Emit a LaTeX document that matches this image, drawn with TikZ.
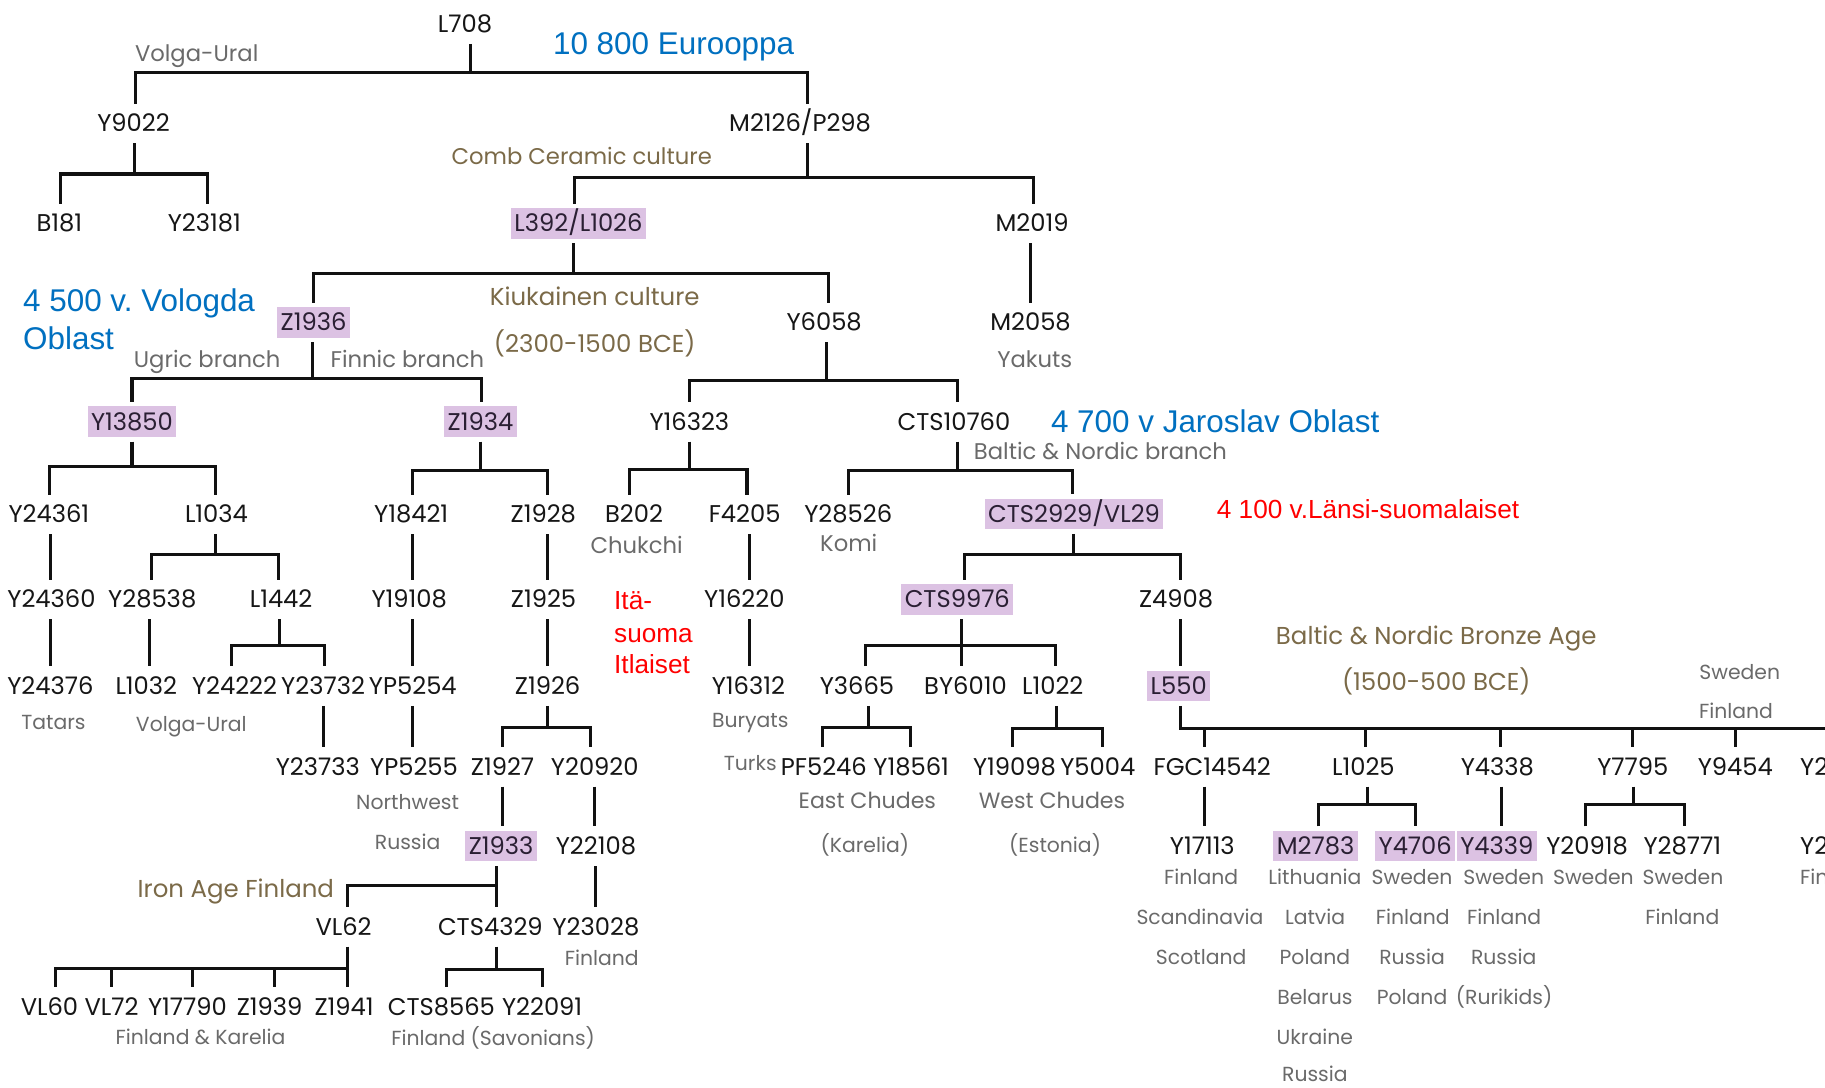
\documentclass[tikz,border=0pt]{standalone}
\usepackage{fontspec}
\newfontfamily\arialf{Liberation Sans}
\newfontfamily\advf{Poppins}
\frenchspacing
\definecolor{hapblack}{HTML}{161616}
\definecolor{lilac}{HTML}{DCC2E3}
\definecolor{hltext}{HTML}{2A1F33}
\definecolor{lblgray}{HTML}{6A6A6A}
\definecolor{tanc}{HTML}{7B6A48}
\definecolor{noteblue}{HTML}{0070C0}
\definecolor{alertred}{HTML}{FF0000}
\definecolor{linecol}{HTML}{111111}
\tikzset{
  hap/.style={font=\advf\fontsize{20.8}{22}\selectfont, text=hapblack, text height=14.5pt, text depth=0pt, inner xsep=3pt, inner ysep=5.8pt, outer ysep=4pt},
  hl/.style={hap, fill=lilac, text=hltext},
  lbl/.style={font=\advf\fontsize{17.5}{20}\selectfont, text=lblgray, anchor=base, inner sep=0pt},
  lblL/.style={lbl, font=\advf\fontsize{19.5}{22}\selectfont},
  lblM/.style={lbl, font=\advf\fontsize{19}{22}\selectfont},
  era/.style={font=\advf\fontsize{21}{24}\selectfont, text=tanc, anchor=base, inner sep=0pt},
  note/.style={font=\arialf\fontsize{27}{30}\selectfont, text=noteblue, anchor=base west, inner sep=0pt},
  alert/.style={font=\arialf\fontsize{22.5}{26}\selectfont, text=alertred, anchor=base west, inner sep=0pt},
  tree/.style={line width=2.6pt, draw=linecol, line join=miter}
}
\begin{document}
\begin{tikzpicture}[x=1pt,y=-1pt]
\clip (0,0) rectangle (1568,934);
\fill[white] (0,0) rectangle (1568,934);

% ---------- haplogroup nodes ----------
\node[hap] (L708) at (399.5,20.6) {L708};
\node[hap] (Y9022) at (114.7,106) {Y9022};
\node[hap] (M2126) at (687.4,106) {M2126/P298};
\node[hap] (B181) at (51,192) {B181};
\node[hap] (Y23181) at (175.6,192) {Y23181};
\node[hl] (L392) at (497,192) {L392/L1026};
\node[hap] (M2019) at (886.7,192) {M2019};
\node[hl] (Z1936) at (269.4,277) {Z1936};
\node[hap] (Y6058) at (708.1,277) {Y6058};
\node[hap] (M2058) at (885.4,277) {M2058};
\node[hl] (Y13850) at (113.4,362.3) {Y13850};
\node[hl] (Z1934) at (412.8,362.3) {Z1934};
\node[hap] (Y16323) at (592.3,362.3) {Y16323};
\node[hap] (CTS10760) at (819.6,362.3) {CTS10760};
\node[hap] (Y24361) at (42,442) {Y24361};
\node[hap] (L1034) at (186,442) {L1034};
\node[hap] (Y18421) at (353.3,442) {Y18421};
\node[hap] (Z1928) at (466.8,442) {Z1928};
\node[hap] (B202) at (544.7,442) {B202};
\node[hap] (F4205) at (639.8,442) {F4205};
\node[hap] (Y28526) at (728.8,442) {Y28526};
\node[hl] (CTS2929) at (922.8,441.6) {CTS2929/VL29};
\node[hap] (Y24360) at (44.2,515) {Y24360};
\node[hap] (Y28538) at (130.8,515) {Y28538};
\node[hap] (L1442) at (241.5,515) {L1442};
\node[hap] (Y19108) at (351.6,515) {Y19108};
\node[hap] (Z1925) at (467,515) {Z1925};
\node[hap] (Y16220) at (639.5,515) {Y16220};
\node[hl] (CTS9976) at (822.5,515) {CTS9976};
\node[hap] (Z4908) at (1010.5,515) {Z4908};
\node[hap] (Y24376) at (43.3,589.4) {Y24376};
\node[hap] (L1032) at (125.7,589.4) {L1032};
\node[hap] (Y24222) at (201.5,589.4) {Y24222};
\node[hap] (Y23732) at (277.6,589.4) {Y23732};
\node[hap] (YP5254) at (354.7,589.4) {YP5254};
\node[hap] (Z1926) at (470.5,589.4) {Z1926};
\node[hap] (Y16312) at (643,589.4) {Y16312};
\node[hap] (Y3665) at (736.3,589.4) {Y3665};
\node[hap] (BY6010) at (829.5,589.4) {BY6010};
\node[hap] (L1022) at (904.5,589.4) {L1022};
\node[hl] (L550) at (1012.7,589.4) {L550};
\node[hap] (Y23733) at (273.1,658.7) {Y23733};
\node[hap] (YP5255) at (355.7,658.7) {YP5255};
\node[hap] (Z1927) at (431.8,658.7) {Z1927};
\node[hap] (Y20920) at (511,658.7) {Y20920};
\node[hap] (PF5246) at (707.8,658.7) {PF5246};
\node[hap] (Y18561) at (782.9,658.7) {Y18561};
\node[hap] (Y19098) at (871.6,658.7) {Y19098};
\node[hap] (Y5004) at (943.2,658.7) {Y5004};
\node[hap] (FGC14542) at (1041.5,658.7) {FGC14542};
\node[hap] (L1025) at (1171.4,658.7) {L1025};
\node[hap] (Y4338) at (1286.5,658.7) {Y4338};
\node[hap] (Y7795) at (1402.9,658.7) {Y7795};
\node[hap] (Y9454) at (1490.9,658.7) {Y9454};
\node[hap, anchor=west] (Y2a) at (1543.4,658.7) {Y2};
\node[hl] (Z1933) at (430.5,727) {Z1933};
\node[hap] (Y22108) at (512,727) {Y22108};
\node[hap] (Y17113) at (1033,727) {Y17113};
\node[hl] (M2783) at (1130.3,727) {M2783};
\node[hl] (Y4706) at (1215.9,727) {Y4706};
\node[hl] (Y4339) at (1286.1,727) {Y4339};
\node[hap] (Y20918) at (1363.6,727) {Y20918};
\node[hap] (Y28771) at (1445.4,727) {Y28771};
\node[hap, anchor=west] (Y2b) at (1543.4,727) {Y2};
\node[hap] (VL62) at (295.2,796.2) {VL62};
\node[hap] (CTS4329) at (421.3,796.2) {CTS4329};
\node[hap] (Y23028) at (512,796.2) {Y23028};
\node[hap] (VL60) at (42.5,864.9) {VL60};
\node[hap] (VL72) at (95.8,864.9) {VL72};
\node[hap] (Y17790) at (161,864.9) {Y17790};
\node[hap] (Z1939) at (231.7,864.9) {Z1939};
\node[hap] (Z1941) at (295.6,864.9) {Z1941};
\node[hap] (CTS8565) at (379.2,864.9) {CTS8565};
\node[hap] (Y22091) at (465.8,864.9) {Y22091};

% ---------- gray labels ----------
\node[lblL] (gVU1) at (169,52.8) {Volga-Ural};
\node[lblL] (gYak) at (889,315.7) {Yakuts};
\node[lblL] (gUgr) at (178,315.7) {Ugric branch};
\node[lblL] (gFin) at (350,315.7) {Finnic branch};
\node[lblL, anchor=base west] (gBNb) at (836.6,395) {Baltic \& Nordic branch};
\node[lblL] (gChu) at (547,475.3) {Chukchi};
\node[lblL] (gKom) at (729.2,473.8) {Komi};
\node[lbl] (gTat) at (45.9,626.5) {Tatars};
\node[lbl] (gVU2) at (164.4,628.5) {Volga-Ural};
\node[lbl] (gBur) at (644.6,625.1) {Buryats};
\node[lbl] (gTur) at (644.6,661.8) {Turks};
\node[lbl] (gNW) at (350.2,695.3) {Northwest};
\node[lbl] (gRu1) at (350.2,729.5) {Russia};
\node[lblM] (gEC) at (745.2,694.3) {East Chudes};
\node[lbl] (gKar) at (743.1,732.5) {(Karelia)};
\node[lblM] (gWC) at (903.9,694.3) {West Chudes};
\node[lbl] (gEst) at (906.5,732.5) {(Estonia)};
\node[lbl] (gSwT) at (1494.7,583.6) {Sweden};
\node[lbl] (gFiT) at (1491.5,617.1) {Finland};
\node[lbl] (gFi23028) at (517,829.9) {Finland};
\node[lbl] (gFK) at (172.3,897.2) {Finland \& Karelia};
\node[lbl] (gFS) at (423.7,898.6) {Finland (Savonians)};
\node[lbl] (gA1) at (1032,759.7) {Finland};
\node[lbl] (gA2) at (1031,794.1) {Scandinavia};
\node[lbl] (gA3) at (1032,829) {Scotland};
\node[lbl] (gB1) at (1129.7,759.7) {Lithuania};
\node[lbl] (gB2) at (1129.9,794.1) {Latvia};
\node[lbl] (gB3) at (1129.7,828.4) {Poland};
\node[lbl] (gB4) at (1129.7,862.8) {Belarus};
\node[lbl] (gB5) at (1129.7,897.2) {Ukraine};
\node[lbl] (gB6) at (1129.7,929) {Russia};
\node[lbl] (gC1) at (1213.2,759.7) {Sweden};
\node[lbl] (gC2) at (1213.8,794.1) {Finland};
\node[lbl] (gC3) at (1213.2,828.4) {Russia};
\node[lbl] (gC4) at (1213.2,862.8) {Poland};
\node[lbl] (gD1) at (1292,759.7) {Sweden};
\node[lbl] (gD2) at (1292.3,794.1) {Finland};
\node[lbl] (gD3) at (1292,828.4) {Russia};
\node[lbl] (gD4) at (1292.3,862.8) {(Rurikids)};
\node[lbl] (gE1) at (1369,759.7) {Sweden};
\node[lbl] (gF1) at (1446,759.7) {Sweden};
\node[lbl] (gF2) at (1445.4,794.1) {Finland};
\node[lbl, anchor=base west] (gG1) at (1546.4,759.7) {Finland};

% ---------- tan era labels ----------
\node[era, font=\advf\fontsize{19.5}{22}\selectfont] (eComb) at (499.8,141.6) {Comb Ceramic culture};
\node[era] (eKiu1) at (511,262.4) {Kiukainen culture};
\node[era] (eKiu2) at (511,302.5) {(2300-1500 BCE)};
\node[era] (eIron) at (202.6,770.7) {Iron Age Finland};
\node[era] (eBr1) at (1234,553.9) {Baltic \& Nordic Bronze Age};
\node[era] (eBr2) at (1234,593.2) {(1500-500 BCE)};

% ---------- blue and red notes ----------
\node[note] (nEur) at (475,46.9) {10 800 Eurooppa};
\node[note] (nVol1) at (19.7,267.5) {4 500 v. Vologda};
\node[note] (nVol2) at (19.7,300.4) {Oblast};
\node[note] (nJar) at (902.8,372) {4 700 v Jaroslav Oblast};
\node[alert] (rLan) at (1045.3,445.6) {4 100 v.Länsi-suomalaiset};
\node[alert] (rIta1) at (527.5,523.8) {Itä-};
\node[alert] (rIta2) at (527.5,552.2) {suoma};
\node[alert] (rIta3) at (527.5,578.5) {Itlaiset};

% ---------- connectors ----------
\draw[tree] ([xshift=5pt]L708.south) -- ([xshift=5pt]L708.south |- 0,62.4);
\draw[tree] ([xshift=2pt]Y9022.north) |- ([xshift=6pt]M2126.north |- 0,62.4) -- ([xshift=6pt]M2126.north);
\draw[tree] ([xshift=1pt]Y9022.south) -- ([xshift=1pt]Y9022.south |- 0,149.5);
\draw[tree] ([xshift=1pt]B181.north) |- ([xshift=3pt]Y23181.north |- 0,149.5) -- ([xshift=3pt]Y23181.north);
\draw[tree] ([xshift=6pt]M2126.south) -- ([xshift=6pt]M2126.south |- 0,152.7);
\draw[tree] ([xshift=-3pt]L392.north) |- ([xshift=1.5pt]M2019.north |- 0,152.7) -- ([xshift=1.5pt]M2019.north);
\draw[tree] ([xshift=-1pt]M2019.south) -- ([xshift=-1pt]M2019.south |- M2058.north);
\draw[tree] ([xshift=-4.5pt]L392.south) -- ([xshift=-4.5pt]L392.south |- 0,234.8);
\draw[tree] (Z1936.north) |- ([xshift=3.7pt]Y6058.north |- 0,234.8) -- ([xshift=3.7pt]Y6058.north);
\draw[tree] ([xshift=-1pt]Z1936.south) -- ([xshift=-1pt]Z1936.south |- 0,325);
\draw[tree] (Y13850.north) |- ([xshift=1pt]Z1934.north |- 0,325) -- ([xshift=1pt]Z1934.north);
\draw[tree] ([xshift=2pt]Y6058.south) -- ([xshift=2pt]Y6058.south |- 0,326.5);
\draw[tree] (Y16323.north) |- ([xshift=3.4pt]CTS10760.north |- 0,326.5) -- ([xshift=3.4pt]CTS10760.north);
\draw[tree] (Y13850.south) -- (Y13850.south |- 0,400.4);
\draw[tree] ([xshift=0.5pt]Y24361.north) |- ([xshift=-0.5pt]L1034.north |- 0,400.4) -- ([xshift=-0.5pt]L1034.north);
\draw[tree] (Z1934.south) -- (Z1934.south |- 0,404.4);
\draw[tree] ([xshift=1pt]Y18421.north) |- ([xshift=3.7pt]Z1928.north |- 0,404.4) -- ([xshift=3.7pt]Z1928.north);
\draw[tree] (Y16323.south) -- (Y16323.south |- 0,403.2);
\draw[tree] ([xshift=-3.7pt]B202.north) |- ([xshift=2pt]F4205.north |- 0,403.2) -- ([xshift=2pt]F4205.north);
\draw[tree] ([xshift=3.4pt]CTS10760.south) -- ([xshift=3.4pt]CTS10760.south |- 0,404.4);
\draw[tree] (Y28526.north) |- ([xshift=-1pt]CTS2929.north |- 0,404.4) -- ([xshift=-1pt]CTS2929.north);
\draw[tree] ([xshift=1pt]Y24361.south) -- ([xshift=1pt]Y24361.south |- Y24360.north);
\draw[tree] ([xshift=-1pt]Y24360.south) -- ([xshift=-1pt]Y24360.south |- Y24376.north);
\draw[tree] ([xshift=-0.5pt]L1034.south) -- ([xshift=-0.5pt]L1034.south |- 0,476);
\draw[tree] ([xshift=-1pt]Y28538.north) |- ([xshift=-2pt]L1442.north |- 0,476) -- ([xshift=-2pt]L1442.north);
\draw[tree] ([xshift=-2.5pt]Y28538.south) -- ([xshift=-2.5pt]Y28538.south |- L1032.north);
\draw[tree] ([xshift=-1.6pt]L1442.south) -- ([xshift=-1.6pt]L1442.south |- 0,554.7);
\draw[tree] ([xshift=-2.7pt]Y24222.north) |- ([xshift=1pt]Y23732.north |- 0,554.7) -- ([xshift=1pt]Y23732.north);
\draw[tree] (Y23732.south) -- (Y23732.south |- Y23733.north);
\draw[tree] ([xshift=1.5pt]Y18421.south) -- ([xshift=1.5pt]Y18421.south |- Y19108.north);
\draw[tree] ([xshift=3pt]Y19108.south) -- ([xshift=3pt]Y19108.south |- YP5254.north);
\draw[tree] (YP5254.south) -- (YP5254.south |- YP5255.north);
\draw[tree] ([xshift=3.5pt]Z1928.south) -- ([xshift=3.5pt]Z1928.south |- Z1925.north);
\draw[tree] ([xshift=3pt]Z1925.south) -- ([xshift=3pt]Z1925.south |- Z1926.north);
\draw[tree] (Z1926.south) -- (Z1926.south |- 0,624.9);
\draw[tree] (Z1927.north) |- ([xshift=-4pt]Y20920.north |- 0,624.9) -- ([xshift=-4pt]Y20920.north);
\draw[tree] (Z1927.south) -- (Z1927.south |- Z1933.north);
\draw[tree] ([xshift=-0.5pt]Y20920.south) -- ([xshift=-0.5pt]Y20920.south |- Y22108.north);
\draw[tree] (Y22108.south) -- (Y22108.south |- Y23028.north);
\draw[tree] ([xshift=-4pt]Z1933.south) -- ([xshift=-4pt]Z1933.south |- CTS4329.north);
\draw[tree] ([xshift=3pt]VL62.north) |- ([xshift=-4pt]Z1933.south |- 0,761);
\draw[tree] ([xshift=3pt]VL62.south) -- ([xshift=3pt]VL62.south |- Z1941.north);
\draw[tree] ([xshift=5pt]VL60.north) |- ([xshift=3pt]VL62.south |- 0,832);
\draw[tree] (VL72.north) -- (VL72.north |- 0,832);
\draw[tree] ([xshift=4.5pt]Y17790.north) -- ([xshift=4.5pt]Y17790.north |- 0,832);
\draw[tree] ([xshift=4.4pt]Z1939.north) -- ([xshift=4.4pt]Z1939.north |- 0,832);
\draw[tree] ([xshift=5pt]CTS4329.south) -- ([xshift=5pt]CTS4329.south |- 0,832.8);
\draw[tree] ([xshift=4pt]CTS8565.north) |- ([xshift=0.4pt]Y22091.north |- 0,832.8) -- ([xshift=0.4pt]Y22091.north);
\draw[tree] ([xshift=4pt]F4205.south) -- ([xshift=4pt]F4205.south |- Y16220.north);
\draw[tree] ([xshift=4.4pt]Y16220.south) -- ([xshift=4.4pt]Y16220.south |- Y16312.north);
\draw[tree] ([xshift=-0.4pt]CTS2929.south) -- ([xshift=-0.4pt]CTS2929.south |- 0,476.8);
\draw[tree] ([xshift=5.8pt]CTS9976.north) |- ([xshift=4pt]Z4908.north |- 0,476.8) -- ([xshift=4pt]Z4908.north);
\draw[tree] ([xshift=3.8pt]CTS9976.south) -- ([xshift=3.8pt]CTS9976.south |- BY6010.north);
\draw[tree] ([xshift=7.5pt]Y3665.north) |- ([xshift=2.4pt]L1022.north |- 0,554.7) -- ([xshift=2.4pt]L1022.north);
\draw[tree] ([xshift=4pt]Z4908.south) -- ([xshift=4pt]Z4908.south |- L550.north);
\draw[tree] ([xshift=9.5pt]Y3665.south) -- ([xshift=9.5pt]Y3665.south |- 0,624.9);
\draw[tree] ([xshift=-1.4pt]PF5246.north) |- ([xshift=-0.7pt]Y18561.north |- 0,624.9) -- ([xshift=-0.7pt]Y18561.north);
\draw[tree] ([xshift=3.4pt]L1022.south) -- ([xshift=3.4pt]L1022.south |- 0,625.5);
\draw[tree] ([xshift=-1.8pt]Y19098.north) |- ([xshift=3.8pt]Y5004.north |- 0,625.5) -- ([xshift=3.8pt]Y5004.north);
\coordinate (L550end) at (1580,625.8);
\draw[tree] ([xshift=1.7pt]L550.south) |- (L550end);
\draw[tree] ([xshift=-7pt]FGC14542.north) -- ([xshift=-7pt]FGC14542.north |- 0,625.8);
\draw[tree] ([xshift=1.7pt]L1025.north) -- ([xshift=1.7pt]L1025.north |- 0,625.8);
\draw[tree] ([xshift=3pt]Y4338.north) -- ([xshift=3pt]Y4338.north |- 0,625.8);
\draw[tree] ([xshift=-0.4pt]Y7795.north) -- ([xshift=-0.4pt]Y7795.north |- 0,625.8);
\draw[tree] (Y9454.north) -- (Y9454.north |- 0,625.8);
\draw[tree] ([xshift=-7pt]FGC14542.south) -- ([xshift=-7pt]FGC14542.south |- Y17113.north);
\draw[tree] ([xshift=3.5pt]L1025.south) -- ([xshift=3.5pt]L1025.south |- 0,691.6);
\draw[tree] ([xshift=2.4pt]M2783.north) |- (Y4706.north |- 0,691.6) -- (Y4706.north);
\draw[tree] ([xshift=3.7pt]Y4338.south) -- ([xshift=3.7pt]Y4338.south |- Y4339.north);
\draw[tree] ([xshift=0.7pt]Y7795.south) -- ([xshift=0.7pt]Y7795.south |- 0,691.6);
\draw[tree] ([xshift=-1.1pt]Y20918.north) |- ([xshift=1.7pt]Y28771.north |- 0,691.6) -- ([xshift=1.7pt]Y28771.north);
\end{tikzpicture}
\end{document}
